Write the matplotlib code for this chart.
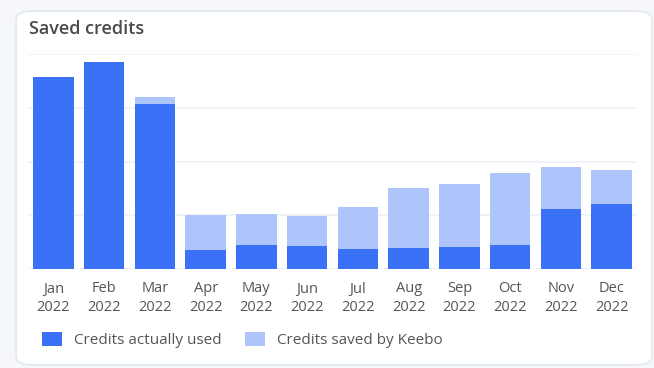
import matplotlib
matplotlib.use("Agg")
import matplotlib.pyplot as plt
from matplotlib.patches import FancyBboxPatch, Patch

months = ["Jan\n2022", "Feb\n2022", "Mar\n2022", "Apr\n2022", "May\n2022", "Jun\n2022",
          "Jul\n2022", "Aug\n2022", "Sep\n2022", "Oct\n2022", "Nov\n2022", "Dec\n2022"]
used = [357, 385, 307, 35, 45, 43, 37, 39, 41, 45, 112, 121]
saved = [0, 0, 13, 65, 57, 55, 78, 111, 117, 133, 78, 63]

plt.rcParams['font.family'] = ['Open Sans', 'DejaVu Sans']

W, H = 654, 368
fig = plt.figure(figsize=(W / 100, H / 100), dpi=100)
fig.patch.set_facecolor("#f5f7fa")

card = FancyBboxPatch((16 / W, 3 / H), (636 / W), (354 / H),
                      boxstyle="round,pad=0,rounding_size=0.025",
                      transform=fig.transFigure, facecolor="white",
                      edgecolor="#e6ebf2", linewidth=1.5, zorder=-5)
fig.patches.append(card)

ax = fig.add_axes([28 / W, (H - 269) / H, 609 / W, 215 / H])
ax.set_zorder(2)
ax.set_facecolor("none")
x = list(range(len(months)))
dark = "#3a71f6"
light = "#aec5fb"
ax.bar(x, used, width=0.8, color=dark, zorder=3)
ax.bar(x, saved, width=0.8, bottom=used, color=light, zorder=3)
ax.set_xlim(-0.5, 11.5)
ax.set_ylim(0, 400)
ax.set_yticks([0, 100, 200, 300, 400])
ax.yaxis.grid(True, color="#eef0f3", linewidth=1.2, zorder=0)
ax.tick_params(axis='y', left=False, labelleft=False)
ax.set_xticks(x)
ax.set_xticklabels(months, fontsize=10.5, color="#555555", linespacing=1.3)
ax.tick_params(axis='x', length=0, pad=9)
for s in ax.spines.values():
    s.set_visible(False)

fig.text(29 / W, 1 - 29 / H, "Saved credits", fontsize=13, color="#4a4a4a",
         va="center", ha="left", fontweight="semibold")

handles = [Patch(facecolor=dark, label="Credits actually used"),
           Patch(facecolor=light, label="Credits saved by Keebo")]
fig.legend(handles=handles, loc="center left", bbox_to_anchor=(28 / W, 1 - 340 / H),
           ncol=2, frameon=False, fontsize=11, handlelength=1.3, handleheight=1.05,
           handletextpad=0.8, columnspacing=1.55, labelcolor="#555555")

fig.savefig("out.png", dpi=100, facecolor=fig.get_facecolor())
